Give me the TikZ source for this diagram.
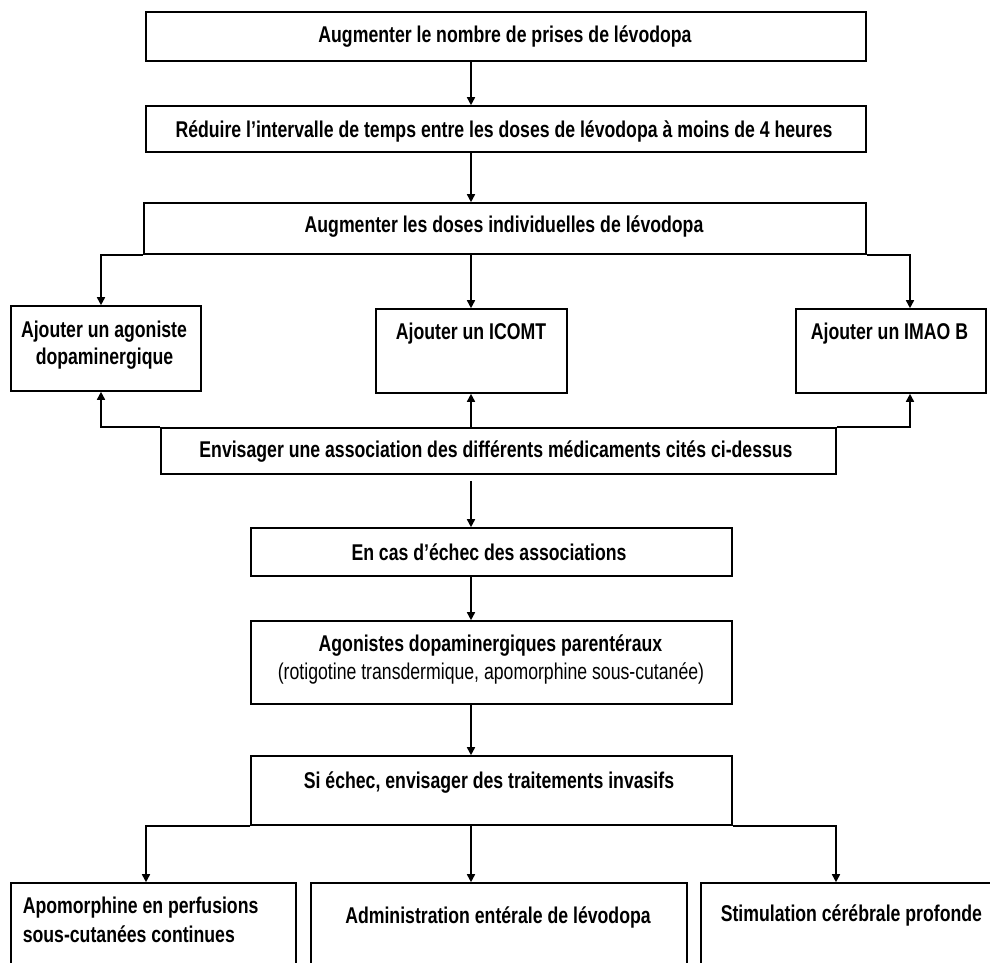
\documentclass[tikz,border=0pt]{standalone}
\usepackage{fontspec}
\setmainfont{Liberation Sans}[FakeStretch=0.775]
\usetikzlibrary{arrows.meta}
\begin{document}
\begin{tikzpicture}[x=1pt,y=-1pt,line width=1.6pt,
  box/.style={draw,rectangle,inner sep=0pt},
  lbl/.style={font=\bfseries\fontsize{22.8}{26}\selectfont,anchor=base,inner sep=0pt},
  lblw/.style={lbl,anchor=base west},
  reg/.style={font=\fontsize{22.8}{26}\selectfont,anchor=base,inner sep=0pt},
  arr/.style={-{Triangle[width=8pt,length=8pt]}}]
\fill[white] (0,0) rectangle (990,963);
\useasboundingbox (0,0) rectangle (990,963);
% column coordinates
\coordinate (ax) at (471,0);
\coordinate (xL) at (101,0);
\coordinate (xR) at (910,0);
\coordinate (xB1) at (146,0);
\coordinate (xB3) at (836,0);
% boxes
\node[box,minimum width=720pt,minimum height=49pt] (b1) at (506,36.5) {};
\node[box,minimum width=720pt,minimum height=46pt] (b2) at (506,129) {};
\node[box,minimum width=722pt,minimum height=51pt] (b3) at (505,228.5) {};
\node[box,minimum width=190pt,minimum height=85pt] (bL) at (106,348.5) {};
\node[box,minimum width=191pt,minimum height=84pt] (bM) at (471.5,351) {};
\node[box,minimum width=190pt,minimum height=84pt] (bR) at (891,351) {};
\node[box,minimum width=675pt,minimum height=46pt] (b4) at (498.5,451) {};
\node[box,minimum width=481pt,minimum height=48pt] (b5) at (491.5,552) {};
\node[box,minimum width=481pt,minimum height=83pt] (b6) at (491.5,662.5) {};
\node[box,minimum width=481pt,minimum height=69pt] (b7) at (491.5,790.5) {};
\node[box,minimum width=285pt,minimum height=117pt] (bB1) at (153.5,941.5) {};
\node[box,minimum width=376pt,minimum height=117pt] (bB2) at (499,941.5) {};
\node[box,minimum width=309pt,minimum height=117pt] (bB3) at (855.5,941.5) {};
% texts
\node[lbl] (t1) at (505,43) {Augmenter le nombre de prises de lévodopa};
\node[lbl] (t2) at (504,137) {Réduire l’intervalle de temps entre les doses de lévodopa à moins de 4 heures};
\node[lbl] (t3) at (504,232) {Augmenter les doses individuelles de lévodopa};
\node[lbl] (tLa) at (104,337) {Ajouter un agoniste};
\node[lbl] (tLb) at (104.5,364) {dopaminergique};
\node[lbl] (tM) at (471,339) {Ajouter un ICOMT};
\node[lbl] (tR) at (889.5,339) {Ajouter un IMAO B};
\node[lbl] (t4) at (496,457) {Envisager une association des différents médicaments cités ci-dessus};
\node[lbl] (t5) at (489,560) {En cas d’échec des associations};
\node[lbl] (t6a) at (490.5,651) {Agonistes dopaminergiques parentéraux};
\node[reg] (t6b) at (491,679) {(rotigotine transdermique, apomorphine sous-cutanée)};
\node[lbl] (t7) at (489,788) {Si échec, envisager des traitements invasifs};
\node[lblw] (tB1a) at (22,913) {Apomorphine en perfusions};
\node[lblw] (tB1b) at (22,942) {sous-cutanées continues};
\node[lbl] (tB2) at (498,923) {Administration entérale de lévodopa};
\node[lblw] (tB3) at (720,921) {Stimulation cérébrale profonde};
% connectors
\coordinate (b4s) at ([yshift=-6pt]b4.south);
\draw[arr] (b1.south -| ax) -- (b2.north -| ax);
\draw[arr] (b2.south -| ax) -- (b3.north -| ax);
\draw[arr] (b3.south west) -| (bL.north -| xL);
\draw[arr] (b3.south -| ax) -- (bM.north -| ax);
\draw[arr] (b3.south east) -| (bR.north -| xR);
\draw[arr] (b4.north west) -| (bL.south -| xL);
\draw[arr] (b4.north -| ax) -- (bM.south -| ax);
\draw[arr] (b4.north east) -| (bR.south -| xR);
\draw[arr] (b4s -| ax) -- (b5.north -| ax);
\draw[arr] (b5.south -| ax) -- (b6.north -| ax);
\draw[arr] (b6.south -| ax) -- (b7.north -| ax);
\draw[arr] (b7.south west) -| (bB1.north -| xB1);
\draw[arr] (b7.south -| ax) -- (bB2.north -| ax);
\draw[arr] (b7.south east) -| (bB3.north -| xB3);
\end{tikzpicture}
\end{document}
